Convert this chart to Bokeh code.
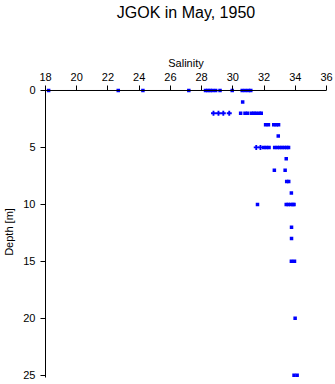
from bokeh.plotting import figure
from bokeh.models import Range1d, LinearAxis, FixedTicker, ColumnDataSource, Span
from bokeh.embed import file_html
from bokeh.resources import INLINE

title_text = "JGOK in May, 1950"
x_label = "Salinity"
y_label = "Depth [m]"
x_ticks = [18, 20, 22, 24, 26, 28, 30, 32, 34, 36]
y_ticks = [0, 5, 10, 15, 20, 25]

# square-marked observations
sq_depth = [0]*15 + [1] + [2]*8 + [3]*5 + [4] + [5]*10 + [6] + [7]*2 + [8]*2 + [9] + [10]*6 + [12, 13] + [15]*2 + [20] + [25]*2
sq_sal = [18.2, 22.66, 24.24, 27.18, 28.25, 28.4, 28.55, 28.7, 28.9, 29.18, 29.96, 30.6, 30.8, 31.0, 31.15,
          30.63,
          30.5, 30.78, 30.95, 31.2, 31.35, 31.5, 31.7, 31.82,
          32.1, 32.28, 32.62, 32.78, 32.93,
          32.91,
          31.98, 32.15, 32.32, 32.68, 32.85, 33.0, 33.15, 33.3, 33.45, 33.57,
          33.42,
          32.66, 33.35,
          33.45, 33.58,
          33.75,
          31.58, 33.42, 33.55, 33.7, 33.85, 33.92,
          33.76, 33.76,
          33.75, 33.95,
          33.99,
          33.92, 34.12]

# plus-marked observations
pl_depth = [2, 2, 2, 2, 5, 5]
pl_sal = [28.76, 29.08, 29.39, 29.77, 31.5, 31.77]

FONT = "Liberation Sans"

p = figure(width=335, height=384, output_backend="svg", toolbar_location=None,
           x_range=Range1d(18, 36), y_range=Range1d(25.2, -0.35),
           x_axis_location=None, y_axis_location=None,
           min_border_left=41, min_border_right=9, min_border_top=86, min_border_bottom=7)
p.outline_line_color = None
p.grid.visible = False
p.background_fill_color = "white"
p.border_fill_color = "white"

xa = LinearAxis(axis_label=x_label, ticker=FixedTicker(ticks=x_ticks))
ya = LinearAxis(axis_label=y_label, ticker=FixedTicker(ticks=y_ticks))
for ax in (xa, ya):
    ax.axis_label_text_font = FONT
    ax.axis_label_text_font_size = "11px"
    ax.axis_label_text_font_style = "normal"
    ax.axis_label_text_color = "black"
    ax.major_label_text_font = FONT
    ax.major_label_text_font_size = "11px"
    ax.major_label_text_color = "black"
    ax.minor_tick_out = 0
    ax.minor_tick_in = 0
    ax.axis_line_color = "black"
    ax.major_tick_line_color = "black"
    ax.major_label_standoff = 5
xa.major_tick_in = 4
xa.major_tick_out = 1
xa.axis_line_color = None
xa.axis_label_standoff = 1
ya.major_tick_in = 0
ya.major_tick_out = 5
ya.axis_label_standoff = 5
p.add_layout(xa, "above")
p.add_layout(ya, "left")

# title drawn as the label of a bare outer axis
ta = LinearAxis(axis_label=title_text, ticker=FixedTicker(ticks=[]))
ta.axis_line_color = None
ta.major_tick_in = 0
ta.major_tick_out = 0
ta.minor_tick_in = 0
ta.minor_tick_out = 0
ta.major_label_standoff = 0
ta.axis_label_standoff = 33
ta.axis_label_text_font = FONT
ta.axis_label_text_font_size = "16px"
ta.axis_label_text_font_style = "normal"
ta.axis_label_text_color = "black"
p.add_layout(ta, "above")

p.add_layout(Span(location=0, dimension="width", line_color="black", line_width=1))

src_sq = ColumnDataSource(dict(x=sq_sal, y=sq_depth))
src_pl = ColumnDataSource(dict(x=pl_sal, y=pl_depth))
p.scatter("x", "y", source=src_sq, marker="square", size=3.5, color="#0000ff", line_width=0)
p.scatter("x", "y", source=src_pl, marker="plus", size=5, color="#0000ff", line_width=0)

open("out.html", "w").write(file_html(p, INLINE))
